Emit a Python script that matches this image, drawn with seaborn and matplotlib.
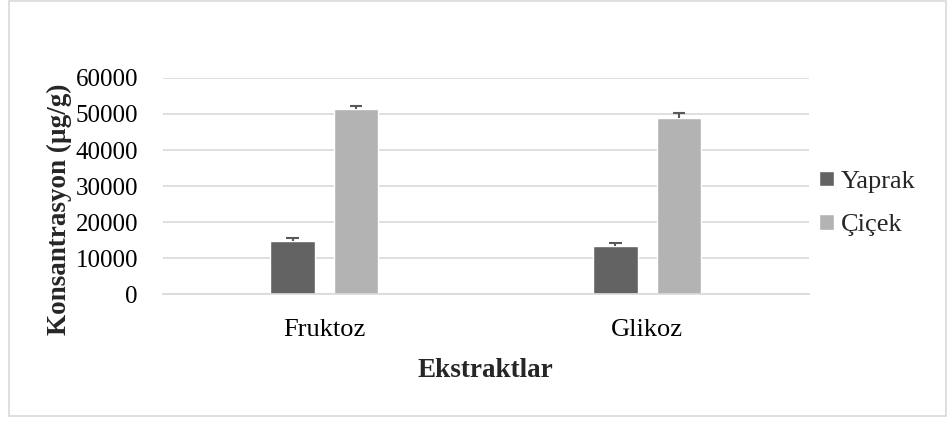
import pandas as pd
import matplotlib.pyplot as plt
import seaborn as sns
from matplotlib.patches import Rectangle

ekstraktlar = ['Fruktoz', 'Glikoz']
yaprak = [14800, 13400]
cicek = [51300, 48900]
yaprak_err = [900, 700]
cicek_err = [1000, 1300]

df = pd.DataFrame({
    'Ekstrakt': ekstraktlar * 2,
    'Kisim': ['Yaprak'] * 2 + ['Çiçek'] * 2,
    'Deger': yaprak + cicek,
    'Hata': yaprak_err + cicek_err,
})

sns.set_style('white')
plt.rcParams['font.family'] = ['Liberation Serif', 'DejaVu Serif']

fig = plt.figure(figsize=(9.47, 4.21), dpi=100)
ax = fig.add_axes([0.172, 0.301, 0.682, 0.514])

colors = {'Yaprak': '#636363', 'Çiçek': '#b3b3b3'}
sns.barplot(
    data=df, x='Ekstrakt', y='Deger', hue='Kisim',
    palette=colors, width=0.394, gap=0.3, errorbar=None,
    saturation=1, ax=ax, legend=True
)

# only the upper half of the error bar, like the original
for cont, kisim in zip(ax.containers, ['Yaprak', 'Çiçek']):
    sub = df[df['Kisim'] == kisim]
    for b, v, e in zip(cont, sub['Deger'], sub['Hata']):
        xc = b.get_x() + b.get_width() / 2
        ax.vlines(xc, v, v + e, color='#595959', lw=1.5, zorder=3)
        ax.hlines(v + e, xc - 0.019, xc + 0.019, color='#595959', lw=1.5, zorder=3)

ax.set_xlim(-0.5, 1.5)
ax.set_ylim(0, 60000)
ax.set_yticks(range(0, 60001, 10000))
ax.yaxis.grid(True, color='#d9d9d9', lw=1.2)
ax.set_axisbelow(True)
for s in ['top', 'right', 'left']:
    ax.spines[s].set_visible(False)
ax.spines['bottom'].set_color('#d9d9d9')
ax.spines['bottom'].set_linewidth(1.2)
ax.tick_params(axis='both', length=0, colors='black')
ax.tick_params(axis='x', pad=18, labelsize=19)
ax.tick_params(axis='y', pad=18, labelsize=18)

ax.set_xlabel('Ekstraktlar', fontsize=19.5, fontweight='bold', labelpad=12)
ax.set_ylabel('Konsantrasyon (µg/g)', fontsize=19.5, fontweight='bold')
ax.yaxis.set_label_coords(-0.141, 0.394)

handles, labels = ax.get_legend_handles_labels()
ax.legend(handles, labels, loc='center left', bbox_to_anchor=(0.865, 0.517),
          bbox_transform=fig.transFigure, frameon=False, fontsize=19,
          handlelength=0.55, handleheight=0.55, handletextpad=0.27,
          labelspacing=0.8, borderpad=0, borderaxespad=0)

fig.patches.append(Rectangle((0.0095, 0.013), 0.989, 0.985, transform=fig.transFigure,
                             fill=False, edgecolor='#d9d9d9', lw=1.2))

fig.savefig('out.png', dpi=100)
